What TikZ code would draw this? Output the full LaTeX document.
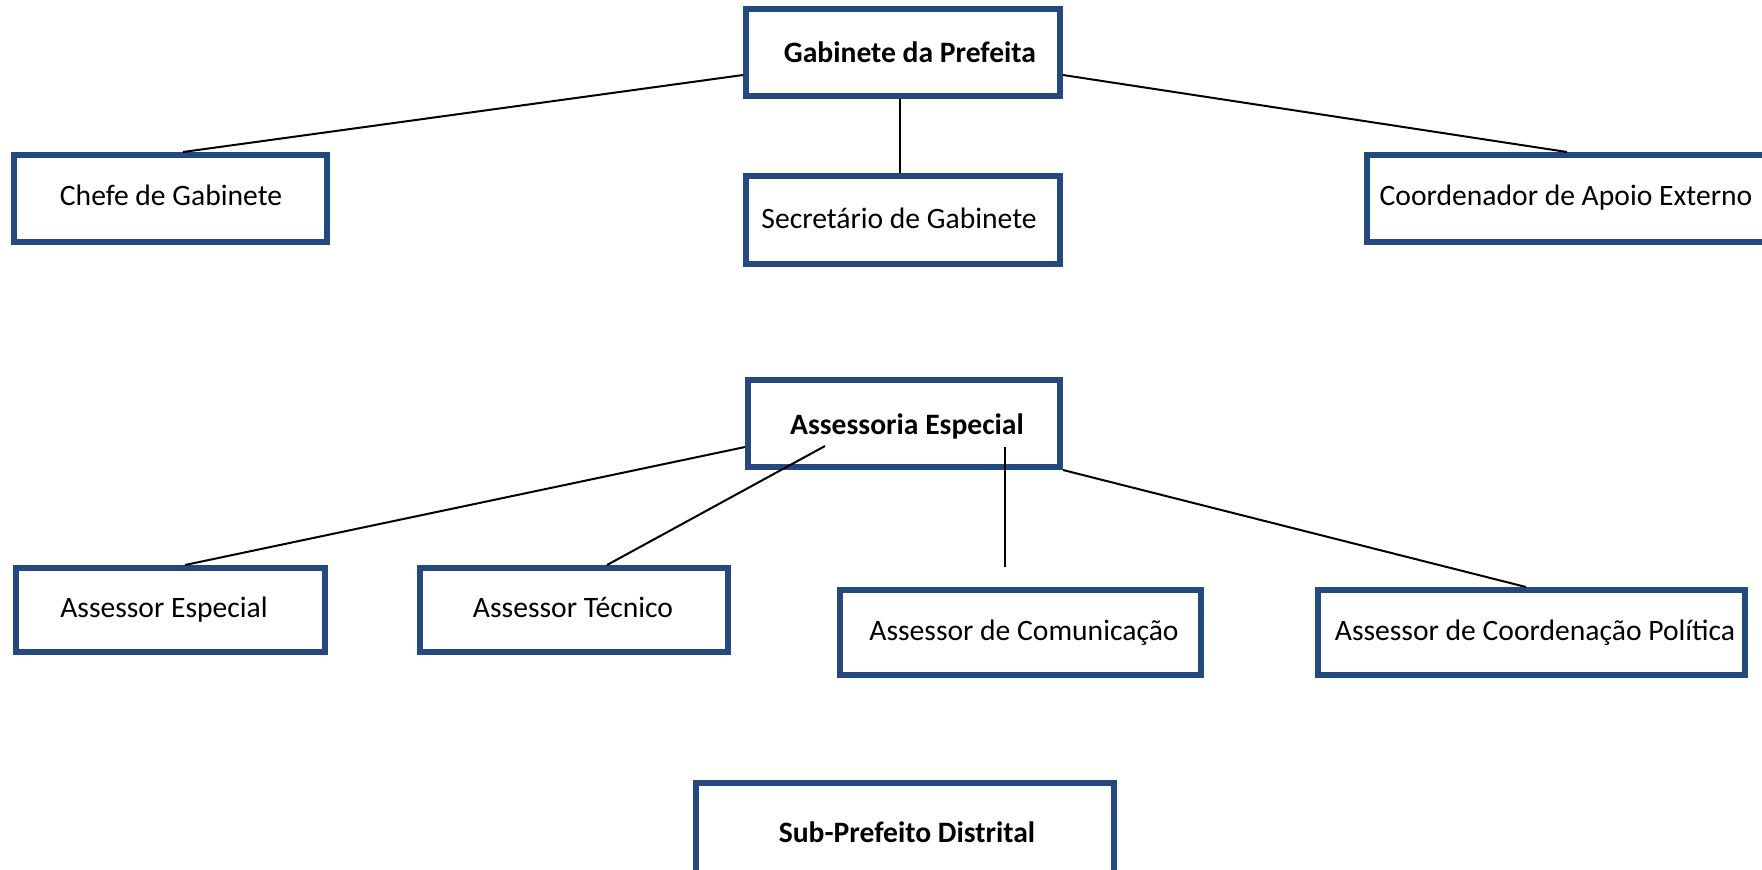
\documentclass[tikz,border=0pt]{standalone}
\usepackage{fontspec}
\setmainfont{Carlito}
\usetikzlibrary{fit}
\definecolor{boxblue}{RGB}{36,73,126}
\begin{document}
\begin{tikzpicture}[x=0.75pt,y=-0.75pt,
  box/.style={draw=boxblue,line width=4.5pt,rectangle,inner sep=0pt},
  lbl/.style={anchor=base,inner sep=0pt,font=\fontsize{22.2}{26}\selectfont},
  blbl/.style={anchor=base,inner sep=0pt,font=\fontsize{22.2}{26}\selectfont\bfseries},
  link/.style={line width=1.5pt,black}]
\useasboundingbox (0,0) rectangle (1762,869);
\clip (0,0) rectangle (1762,869);
% boxes
\node[box,fit={(746,9) (1060,96)}] (gab) {};
\node[box,fit={(14,155) (327,242)}] (chefe) {};
\node[box,fit={(746,176) (1060,264)}] (sec) {};
\node[box,fit={(1367,155) (1800,242)}] (coord) {};
\node[box,fit={(748,380) (1060,467)}] (ase) {};
\node[box,fit={(16,568) (325,652)}] (aesp) {};
\node[box,fit={(420,568) (728,652)}] (atec) {};
\node[box,fit={(840,590) (1201,675)}] (acom) {};
\node[box,fit={(1318,590) (1745,675)}] (apol) {};
\node[box,fit={(696,783) (1114,900)}] (sub) {};
% labels
\node[blbl] (tgab) at (910,62) {Gabinete da Prefeita};
\node[lbl] (tchefe) at (171,205) {Chefe de Gabinete};
\node[lbl] (tsec) at (899,228) {Secretário de Gabinete};
\node[lbl] (tcoord) at (1566,205) {Coordenador de Apoio Externo};
\node[blbl] (tase) at (907,434) {Assessoria Especial};
\node[lbl] (taesp) at (164,617) {Assessor Especial};
\node[lbl] (tatec) at (573,617) {Assessor Técnico};
\node[lbl] (tacom) at (1024,640) {Assessor de Comunicação};
\node[lbl] (tapol) at (1535,640) {Assessor de Coordenação Política};
\node[blbl] (tsub) at (907,842) {Sub-Prefeito Distrital};
% connectors
\coordinate (tecstart) at (825,446);
\coordinate (comstart) at (1005,447);
\coordinate (comend) at (1005,567);
\draw[link] (gab.west |- 0,75) -- (183,0 |- chefe.north);
\draw[link] (900,0 |- gab.south) -- (900,0 |- sec.north);
\draw[link] (gab.east |- 0,75) -- (1567,0 |- coord.north);
\draw[link] (ase.west |- 0,447) -- (185,0 |- aesp.north);
\draw[link] (tecstart) -- (607,0 |- atec.north);
\draw[link] (comstart) -- (comend);
\draw[link] (ase.south east) -- (1526,0 |- apol.north);
\end{tikzpicture}
\end{document}
